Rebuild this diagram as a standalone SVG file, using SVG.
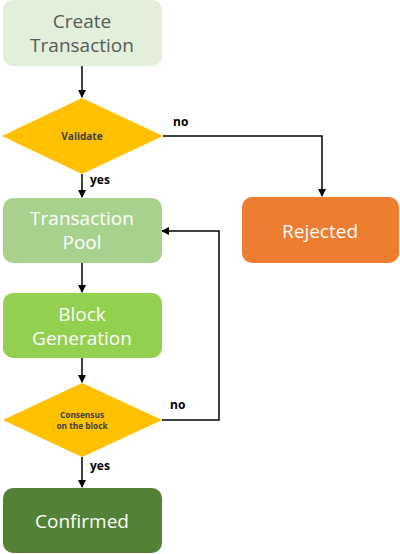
<svg xmlns="http://www.w3.org/2000/svg" width="400" height="554" viewBox="0 0 400 554">
<defs>
<marker id="ah" markerWidth="8" markerHeight="8" refX="7" refY="4" orient="auto" markerUnits="userSpaceOnUse">
<path d="M0,0 L8,4 L0,8 z" fill="#000"/>
</marker>
<style>
.box{stroke:none}
.t{font-family:"Open Sans","Noto Sans",sans-serif;font-size:19px;text-anchor:middle;fill:#fff}
.d{font-family:"Open Sans","Noto Sans",sans-serif;font-weight:bold;text-anchor:middle;fill:#404040}
.lbl{font-family:"Open Sans","Noto Sans",sans-serif;font-weight:bold;font-size:12px;fill:#000}
.c{fill:none;stroke:#000;stroke-width:1.5;marker-end:url(#ah)}
</style>
</defs>
<rect width="400" height="554" fill="#fff"/>
<g id="connectors">
<path class="c" d="M82,66 L82,97"/>
<path class="c" d="M163,136 L322,136 L322,196"/>
<path class="c" d="M82,174 L82,197"/>
<path class="c" d="M82,263 L82,292"/>
<path class="c" d="M82,358 L82,382"/>
<path class="c" d="M162,420 L219,420 L219,231 L162,231"/>
<path class="c" d="M82,457 L82,487"/>
<text class="lbl" x="173" y="126">no</text>
<text class="lbl" x="90" y="184">yes</text>
<text class="lbl" x="170" y="409">no</text>
<text class="lbl" x="90" y="470">yes</text>
</g>
<g id="create">
<rect class="box" x="3" y="0" width="159" height="66" rx="10" fill="#E2EFDA"/>
<text class="t" x="82" y="28" style="fill:#595959">Create</text>
<text class="t" x="82" y="52" style="fill:#595959">Transaction</text>
</g>
<g id="validate">
<polygon points="82,98 163,136 82,174 2,136" fill="#FFC000"/>
<text class="d" x="82" y="140" font-size="10">Validate</text>
</g>
<g id="rejected">
<rect class="box" x="242" y="197" width="157" height="66" rx="10" fill="#ED7D31"/>
<text class="t" x="320" y="238">Rejected</text>
</g>
<g id="pool">
<rect class="box" x="3" y="198" width="159" height="65" rx="10" fill="#A9D18E"/>
<text class="t" x="82" y="225">Transaction</text>
<text class="t" x="82" y="249">Pool</text>
</g>
<g id="block">
<rect class="box" x="3" y="293" width="159" height="65" rx="10" fill="#92D050"/>
<text class="t" x="82" y="321">Block</text>
<text class="t" x="82" y="345">Generation</text>
</g>
<g id="consensus">
<polygon points="82,383 162,420 82,457 3,420" fill="#FFC000"/>
<text class="d" x="82" y="418" font-size="8.3">Consensus</text>
<text class="d" x="82" y="428.5" font-size="8.3">on the block</text>
</g>
<g id="confirmed">
<rect class="box" x="3" y="488" width="159" height="65" rx="10" fill="#538135"/>
<text class="t" x="82" y="528">Confirmed</text>
</g>
</svg>
